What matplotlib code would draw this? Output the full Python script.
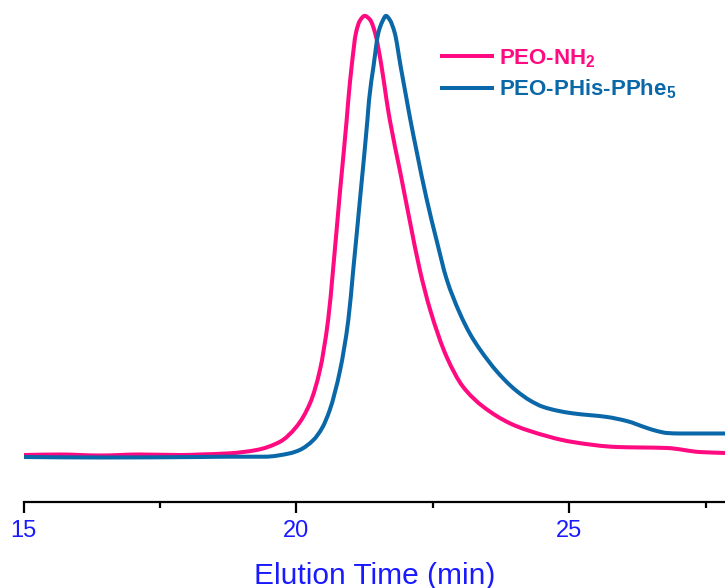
import numpy as np
import matplotlib
matplotlib.use("Agg")
import matplotlib.pyplot as plt
from matplotlib.path import Path
from matplotlib.patches import PathPatch
from matplotlib.lines import Line2D

plt.rcParams["font.family"] = ["Liberation Sans", "DejaVu Sans"]
plt.rcParams["mathtext.fontset"] = "custom"
plt.rcParams["mathtext.rm"] = "Liberation Sans:bold"
plt.rcParams["mathtext.bf"] = "Liberation Sans:bold"
plt.rcParams["mathtext.default"] = "rm"

# GPC traces: elution time (min) vs. normalised RI signal
peo_nh2_t = [15.00, 15.67, 16.40, 17.13, 17.87, 18.23, 18.78, 19.27, 19.70, 20.00,
             20.25, 20.43, 20.58, 20.67, 20.80, 20.92, 20.95, 21.01, 21.09, 21.16,
             21.25, 21.35, 21.44, 21.56, 21.65, 21.71, 21.90, 22.08, 22.26, 22.45,
             22.75, 23.05, 23.42, 23.91, 24.22, 25.06, 25.87, 26.79, 27.39, 27.85]
peo_nh2_y = [0.45, 0.57, 0.34, 0.57, 0.45, 0.57, 0.84, 1.59, 3.47, 6.87,
             12.24, 19.73, 31.07, 42.40, 60.54, 76.42, 80.95, 88.44, 96.15, 98.87,
             100.0, 99.09, 96.15, 88.44, 80.95, 76.42, 64.63, 53.29, 42.40, 33.33,
             22.74, 15.94, 11.41, 7.64, 6.12, 3.40, 2.27, 2.04, 1.13, 0.91]

peo_phis_t = [15.00, 16.40, 18.23, 18.78, 19.42, 19.88, 20.06, 20.31, 20.47, 20.61,
              20.80, 20.95, 21.04, 21.18, 21.30, 21.33, 21.41, 21.50, 21.57, 21.64,
              21.71, 21.80, 21.91, 22.02, 22.08, 22.20, 22.38, 22.57, 22.75, 22.99,
              23.18, 23.36, 23.67, 23.91, 24.04, 24.28, 24.51, 24.78, 25.06, 25.69,
              26.05, 26.42, 26.60, 26.79, 27.02, 27.85]
peo_phis_y = [0.0, -0.11, 0.0, 0.07, 0.07, 0.84, 1.59, 3.85, 6.58, 10.66,
              19.73, 31.07, 42.40, 60.54, 76.42, 80.95, 88.44, 96.15, 98.64, 100.0,
              99.09, 96.15, 88.44, 80.95, 76.87, 69.39, 58.73, 48.98, 40.36, 32.65,
              27.90, 24.40, 19.40, 16.30, 14.90, 12.80, 11.40, 10.50, 9.90, 9.07,
              8.16, 6.58, 5.90, 5.44, 5.33, 5.33]

series_labels = [r"PEO-NH$_{2}$", r"PEO-PHis-PPhe$_{5}$"]
series_colors = ["#FF0A80", "#0A67A8"]
major_ticks = [15, 20, 25]
minor_ticks = [17.5, 22.5, 27.5]
axis_color = "#1A1AFF"


def monotone_slopes(x, y):
    """Fritsch-Carlson tangents so the drawn curve never overshoots the samples."""
    h = np.diff(x)
    d = np.diff(y) / h
    m = np.zeros_like(y)
    m[0], m[-1] = d[0], d[-1]
    for k in range(1, len(x) - 1):
        if d[k - 1] * d[k] <= 0:
            m[k] = 0.0
        else:
            w1 = 2 * h[k] + h[k - 1]
            w2 = h[k] + 2 * h[k - 1]
            m[k] = (w1 + w2) / (w1 / d[k - 1] + w2 / d[k])
    return m


def smooth_trace_path(t, y):
    """Cubic Bezier path passing through every sample."""
    x = np.asarray(t, float)
    y = np.asarray(y, float)
    m = monotone_slopes(x, y)
    verts = [(x[0], y[0])]
    codes = [Path.MOVETO]
    for i in range(len(x) - 1):
        h = x[i + 1] - x[i]
        verts += [(x[i] + h / 3, y[i] + m[i] * h / 3),
                  (x[i + 1] - h / 3, y[i + 1] - m[i + 1] * h / 3),
                  (x[i + 1], y[i + 1])]
        codes += [Path.CURVE4] * 3
    return Path(verts, codes)


fig = plt.figure(figsize=(7.25, 5.88), dpi=100)
ax = fig.add_axes([23.5 / 725, 86 / 588, 1 - 23.5 / 725, 502 / 588])

handles = []
for (t, y), color, label in zip([(peo_nh2_t, peo_nh2_y), (peo_phis_t, peo_phis_y)],
                                series_colors, series_labels):
    ax.add_patch(PathPatch(smooth_trace_path(t, y), fill=False, edgecolor=color,
                           lw=2.9, joinstyle="round", capstyle="butt"))
    handles.append(Line2D([], [], color=color, lw=2.9, label=label))

ax.set_xlim(15, 27.85)
ax.set_ylim(-10.2, 103.6)

for side in ("top", "right", "left"):
    ax.spines[side].set_visible(False)
ax.spines["bottom"].set_linewidth(1.6)
ax.spines["bottom"].set_color("black")

ax.set_yticks([])
ax.set_xticks(major_ticks)
ax.set_xticks(minor_ticks, minor=True)
ax.tick_params(axis="x", which="major", direction="out", length=8, width=1.6,
               labelsize=17, labelcolor=axis_color, pad=5)
ax.tick_params(axis="x", which="minor", direction="out", length=4.5, width=1.6)
ax.set_xlabel("Elution Time (min)", fontsize=21.5, color=axis_color, labelpad=14)

ax.legend(handles=handles, loc="upper left",
          bbox_to_anchor=(441.7 / 725, 1 - 47 / 588),
          bbox_transform=fig.transFigure, frameon=False,
          handlelength=2.25, handletextpad=0.32, labelspacing=0.35,
          borderpad=0, borderaxespad=0,
          prop={"weight": "bold", "size": 16}, labelcolor="linecolor")

fig.savefig("out.png", dpi=100)
